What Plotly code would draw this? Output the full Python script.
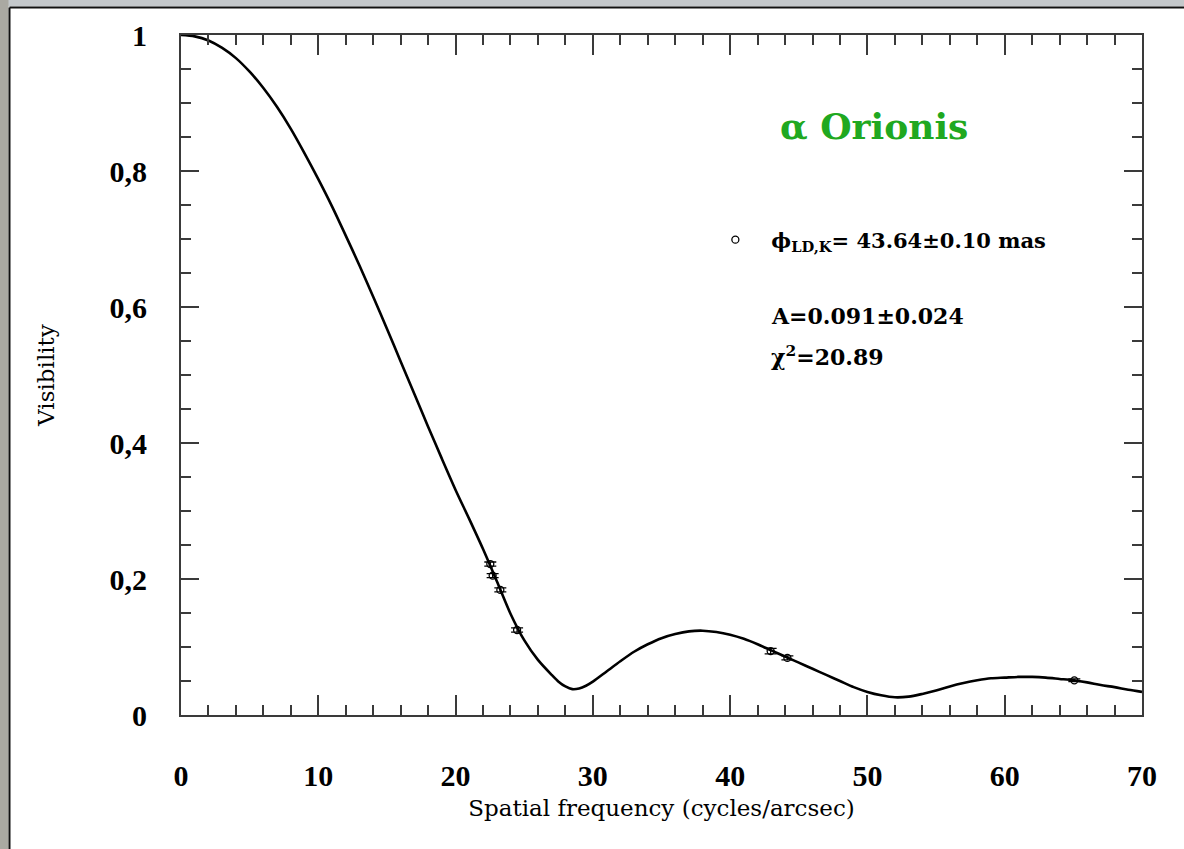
import plotly.graph_objects as go

# Model visibility curve
CURVE_X = [0, 1, 2, 3, 4, 5, 6, 7, 8, 9, 10, 11, 12, 13, 14, 15, 16, 17, 18, 19, 20,
           21, 22, 23, 24, 25, 26, 27, 27.5, 28, 28.5, 29, 29.5, 30, 31, 32, 33, 34, 35, 36, 37, 38,
           39, 40, 41, 42, 43, 44, 45, 46, 47, 48, 49, 50, 51, 52, 53, 54, 55, 56, 57,
           58, 59, 60, 61, 62, 63, 64, 65, 66, 67, 68, 69, 70]
CURVE_V = [1.000, 0.998, 0.992, 0.981, 0.966, 0.946, 0.922, 0.894, 0.862, 0.826, 0.788,
           0.748, 0.705, 0.661, 0.615, 0.568, 0.520, 0.472, 0.424, 0.377, 0.331,
           0.288, 0.244, 0.197, 0.149, 0.110, 0.081, 0.059, 0.049, 0.042, 0.038, 0.039, 0.043,
           0.049, 0.064, 0.079, 0.093, 0.104, 0.113, 0.119, 0.123, 0.124,
           0.122, 0.118, 0.112, 0.104, 0.095, 0.086, 0.077, 0.068, 0.059, 0.050,
           0.041, 0.034, 0.029, 0.026, 0.027, 0.031, 0.036, 0.042, 0.047,
           0.051, 0.054, 0.055, 0.056, 0.056, 0.055, 0.053, 0.051, 0.048, 0.044,
           0.041, 0.037, 0.034]

# Measured points
DATA_X = [22.53, 22.70, 23.26, 24.48, 42.95, 44.17, 65.07]
DATA_V = [0.222, 0.205, 0.184, 0.125, 0.094, 0.084, 0.051]
DATA_ERR = [0.003, 0.003, 0.003, 0.003, 0.004, 0.003, 0.002]

X_TICKS = [0, 10, 20, 30, 40, 50, 60, 70]
X_TICKTEXT = ["0", "10", "20", "30", "40", "50", "60", "70"]
Y_TICKS = [0, 0.2, 0.4, 0.6, 0.8, 1.0]
Y_TICKTEXT = ["0", "0,2", "0,4", "0,6", "0,8", "1"]

TITLE = "α Orionis"
LEGEND_LABEL = "ϕ<sub>LD,K</sub>= 43.64±0.10 mas"
NOTE_A = "A=0.091±0.024"
NOTE_CHI = "χ<sup>2</sup>=20.89"

AXCOL = "#3a3a3a"
TICKFONT = dict(family="Liberation Serif", size=30, color="black", weight="bold")
TEXTFONT = dict(family="DejaVu Serif", size=22, color="black", weight="bold")

fig = go.Figure()
fig.add_trace(go.Scatter(
    x=CURVE_X, y=CURVE_V, mode="lines",
    line=dict(color="black", width=2.6, shape="spline", smoothing=0.8),
    showlegend=False, hoverinfo="skip"))
fig.add_trace(go.Scatter(
    x=DATA_X, y=DATA_V, mode="markers", name=LEGEND_LABEL,
    marker=dict(symbol="circle-open", size=7, color="black", line=dict(width=1.3)),
    error_y=dict(type="data", array=DATA_ERR, visible=True, color="black",
                 thickness=1.3, width=6),
    showlegend=True))

fig.update_layout(
    width=1184, height=849,
    margin=dict(l=181, r=42, t=35, b=134),
    paper_bgcolor="white", plot_bgcolor="white",
    showlegend=True,
    legend=dict(x=0.5394, y=0.6985, xanchor="left", yanchor="middle",
                bgcolor="rgba(0,0,0,0)", itemwidth=62,
                font=dict(family="DejaVu Serif", size=21, color="black", weight="bold"),
                itemsizing="trace"),
    xaxis=dict(range=[0, 70], tickvals=X_TICKS, ticktext=X_TICKTEXT,
               ticks="inside", ticklen=20, tickwidth=1.5, tickcolor=AXCOL,
               minor=dict(dtick=2, ticks="inside", ticklen=10, tickwidth=1.5, tickcolor=AXCOL),
               showline=True, linecolor=AXCOL, linewidth=2, mirror="ticks",
               showgrid=False, zeroline=False, tickfont=TICKFONT,
               ticklabelstandoff=33,
               title=dict(text="Spatial frequency (cycles/arcsec)",
                          font=dict(family="DejaVu Serif", size=23, color="black"),
                          standoff=9)),
    yaxis=dict(range=[0, 1], tickvals=Y_TICKS, ticktext=Y_TICKTEXT,
               ticks="inside", ticklen=18, tickwidth=1.5, tickcolor=AXCOL,
               minor=dict(dtick=0.05, ticks="inside", ticklen=10, tickwidth=1.5, tickcolor=AXCOL),
               showline=True, linecolor=AXCOL, linewidth=2, mirror="ticks",
               showgrid=False, zeroline=False, tickfont=TICKFONT,
               ticklabelstandoff=26,
               title=dict(text="Visibility",
                          font=dict(family="DejaVu Serif", size=23, color="black"),
                          standoff=48)),
)

fig.add_annotation(text=TITLE, xref="paper", yref="paper",
                   x=(874 - 181) / 961, y=(715 - 126) / 680, xanchor="center", yanchor="middle",
                   showarrow=False,
                   font=dict(family="DejaVu Serif", size=36, color="rgb(32,168,32)", weight="bold"))
fig.add_annotation(text=NOTE_A, xref="paper", yref="paper",
                   x=(769 - 181) / 961, y=(715 - 316) / 680, xanchor="left", yanchor="middle",
                   showarrow=False, font=TEXTFONT)
fig.add_annotation(text=NOTE_CHI, xref="paper", yref="paper",
                   x=(769 - 181) / 961, y=(715 - 356) / 680, xanchor="left", yanchor="middle",
                   showarrow=False, font=TEXTFONT)

# page frame (gray border at top and left)
fig.add_shape(type="rect", xref="paper", yref="paper", x0=-0.3, x1=1.2,
              y0=(715 - 6.5) / 680, y1=1.2, fillcolor="#c4c8cb", line_width=0, layer="above")
fig.add_shape(type="rect", xref="paper", yref="paper", x0=-0.3, x1=(8.5 - 181) / 961,
              y0=-0.3, y1=1.2, fillcolor="#aaa9a2", line_width=0, layer="above")
fig.add_shape(type="line", xref="paper", yref="paper", x0=(9.5 - 181) / 961, x1=1.2,
              y0=(715 - 7.5) / 680, y1=(715 - 7.5) / 680, line=dict(color="#111", width=2),
              layer="above")
fig.add_shape(type="line", xref="paper", yref="paper", x0=(9.5 - 181) / 961, x1=(9.5 - 181) / 961,
              y0=-0.3, y1=(715 - 7.5) / 680, line=dict(color="#111", width=2), layer="above")

fig.write_html("out.html")
